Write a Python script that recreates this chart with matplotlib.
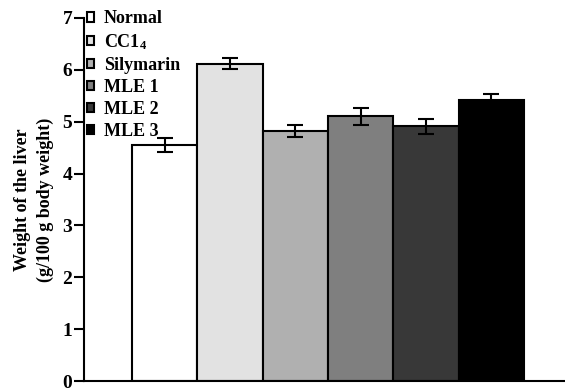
import matplotlib
matplotlib.use('Agg')
import matplotlib.pyplot as plt

plt.rcParams['font.family'] = ['Liberation Serif', 'DejaVu Serif']
plt.rcParams['mathtext.fontset'] = 'custom'
plt.rcParams['mathtext.rm'] = 'Liberation Serif'
plt.rcParams['mathtext.bf'] = 'Liberation Serif:bold'
plt.rcParams['mathtext.default'] = 'bf'

groups = ['Normal', 'CC1$_4$', 'Silymarin', 'MLE 1', 'MLE 2', 'MLE 3']
means = [4.55, 6.12, 4.82, 5.10, 4.91, 5.42]
errors = [0.13, 0.11, 0.12, 0.17, 0.15, 0.11]
colors = ['#ffffff', '#e2e2e2', '#b0b0b0', '#7f7f7f', '#383838', '#000000']
yticks = [0, 1, 2, 3, 4, 5, 6, 7]

fig = plt.figure(figsize=(5.65, 3.9), dpi=100)
ax = fig.add_axes([0.1487, 0.023, 0.8513, 0.931])

x = list(range(len(groups)))
bars = ax.bar(x, means, width=1.0, color=colors, edgecolor='black', linewidth=1.5,
              zorder=2)
ax.errorbar(x, means, yerr=errors, fmt='none', ecolor='black', elinewidth=1.5,
            capsize=6, capthick=1.5, zorder=3)

ax.set_xlim(-1.235, 6.13)
ax.set_ylim(0, 7)
ax.set_yticks(yticks)
ax.set_xticks([])
for s in ['top', 'right']:
    ax.spines[s].set_visible(False)
ax.spines['left'].set_linewidth(1.5)
ax.spines['bottom'].set_linewidth(1.5)
ax.tick_params(axis='y', length=7, width=1.5, labelsize=14, pad=1.5)
for lab in ax.get_yticklabels():
    lab.set_fontweight('bold')

ax.set_ylabel('Weight of the liver\n(g/100 g body weight)', fontsize=13,
              fontweight='bold', labelpad=6, linespacing=1.45)

leg = ax.legend(bars, groups, loc='upper left', bbox_to_anchor=(0.0, 1.028),
                frameon=False, handlelength=0.4, handleheight=0.4,
                handletextpad=0.55, labelspacing=0.27, borderaxespad=0.0,
                borderpad=0.15, prop={'size': 13, 'weight': 'bold'})

fig.savefig('out.png', dpi=100)
